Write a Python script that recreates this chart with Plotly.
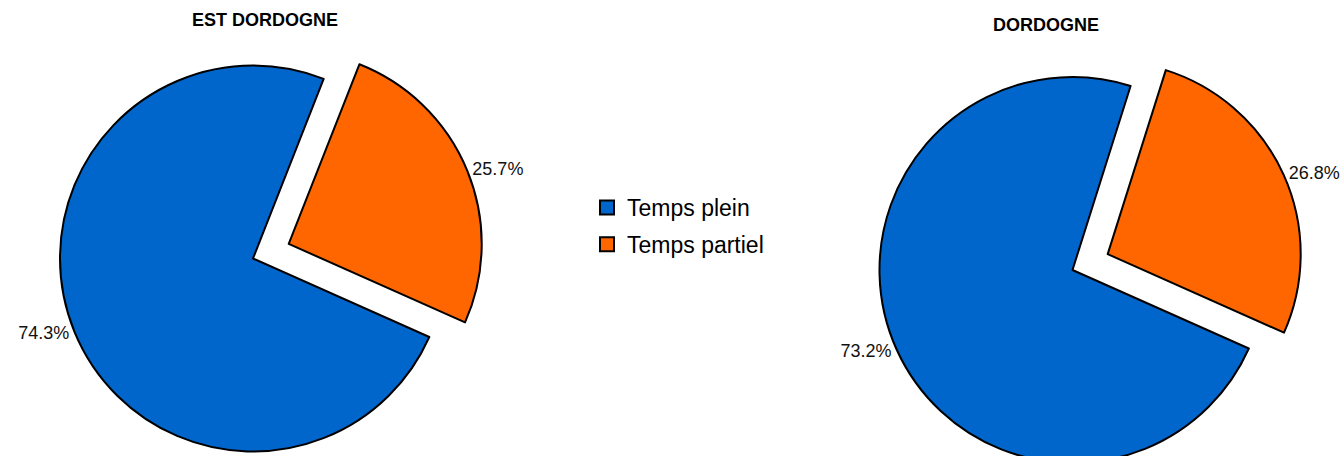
import plotly.graph_objects as go

# ---- data ----
categories = ["Temps plein", "Temps partiel"]
est_dordogne = [74.3, 25.7]
dordogne = [73.2, 26.8]
titles = ["EST DORDOGNE", "DORDOGNE"]
colors = ["#0066CC", "#FF6600"]

W, H = 1343, 520
FONT = "Liberation Sans, Arial, sans-serif"

fig = go.Figure()

common = dict(
    labels=categories,
    sort=False,
    direction="clockwise",
    rotation=114,
    pull=[0, 0.2],
    marker=dict(colors=colors, line=dict(color="black", width=2)),
    textposition="outside",
    texttemplate="%{percent:.1%}",
    textfont=dict(family=FONT, size=18, color="#111111"),
    showlegend=False,
    automargin=False,
    hoverinfo="label+percent",
)

fig.add_trace(go.Pie(values=est_dordogne, name=titles[0],
                     domain=dict(x=[0.01593, 0.36083], y=[0.0575, 0.94827]), **common))
fig.add_trace(go.Pie(values=dordogne, name=titles[1],
                     domain=dict(x=[0.62613, 0.97103], y=[0.03538, 0.92615]), **common))

# legend entries
for i, (cat, col) in enumerate(zip(categories, colors)):
    fig.add_trace(go.Scatter(
        x=[None], y=[None], mode="markers", name=cat,
        legendgroup=f"g{i}",
        marker=dict(symbol="square", size=14, color=col,
                    line=dict(color="black", width=2)),
        hoverinfo="skip",
    ))

fig.add_annotation(text=f"<b>{titles[0]}</b>", x=265 / W, y=1 - 20 / H,
                   xref="paper", yref="paper", showarrow=False,
                   xanchor="center", yanchor="middle",
                   font=dict(family=FONT, size=18, color="black"))
fig.add_annotation(text=f"<b>{titles[1]}</b>", x=1045.5 / W, y=1 - 25.3 / H,
                   xref="paper", yref="paper", showarrow=False,
                   xanchor="center", yanchor="middle",
                   font=dict(family=FONT, size=18, color="black"))

fig.update_layout(
    width=W, height=H,
    margin=dict(l=0, r=0, t=0, b=0, pad=0, autoexpand=False),
    paper_bgcolor="white", plot_bgcolor="white",
    xaxis=dict(visible=False), yaxis=dict(visible=False),
    legend=dict(x=587 / W, y=1 - 186 / H, xanchor="left", yanchor="top",
                traceorder="grouped", tracegroupgap=4,
                font=dict(family=FONT, size=23, color="black"),
                bgcolor="rgba(0,0,0,0)"),
)

fig.write_html(
    "out.html",
    config={"displayModeBar": False},
    post_script="document.documentElement.style.overflow='hidden';"
                "document.body.style.overflow='hidden';"
                "document.body.style.margin='0';",
)
